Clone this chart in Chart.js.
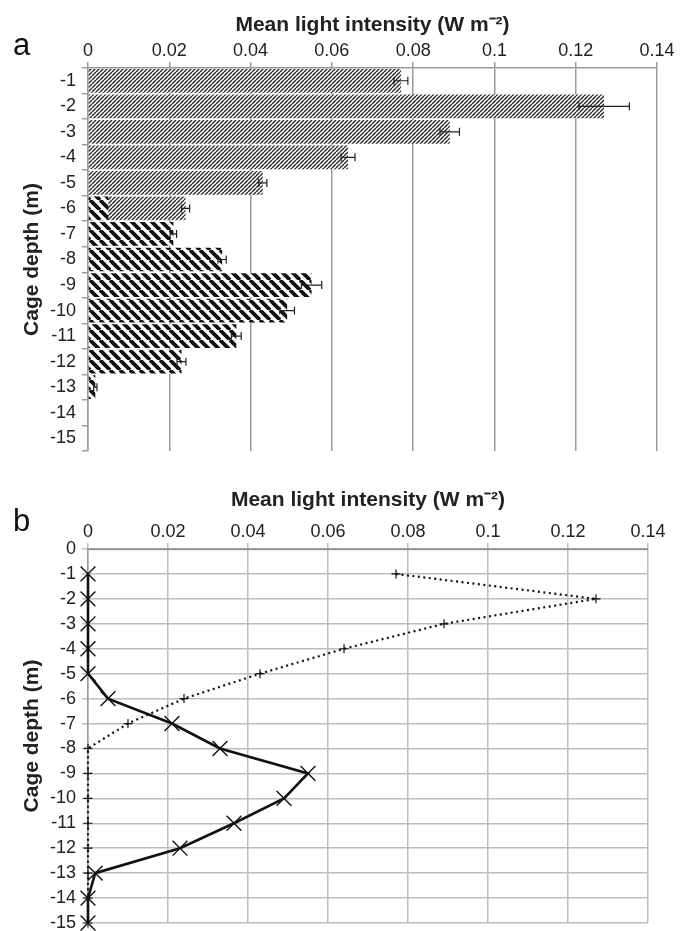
<!DOCTYPE html>
<html>
<head>
<meta charset="utf-8">
<title>Mean light intensity by cage depth</title>
<script src="https://cdn.jsdelivr.net/npm/chart.js@4.4.1/dist/chart.umd.min.js"></script>
<style>
  html, body { margin: 0; padding: 0; background: #fff; }
  #wrap { position: relative; width: 692px; height: 931px; }
  canvas { position: absolute; left: 0; }
  #chart-a { top: 0; }
  #chart-b { top: 458px; }
</style>
</head>
<body>
<div id="wrap">
  <canvas id="chart-a" width="692" height="456"></canvas>
  <canvas id="chart-b" width="692" height="473"></canvas>
</div>
<script>
/* ── data ─────────────────────────────────────────────── */
const depths      = [-1, -2, -3, -4, -5, -6, -7, -8, -9, -10, -11, -12, -13, -14, -15];
const depthTicks  = [0, -1, -2, -3, -4, -5, -6, -7, -8, -9, -10, -11, -12, -13, -14, -15];
const lightTicks  = [0, 0.02, 0.04, 0.06, 0.08, 0.1, 0.12, 0.14];

// fine-hatched bars / dotted line (+)
const upperSeries = [0.077, 0.127, 0.089, 0.064, 0.043, 0.024, 0.010, 0, 0, 0, 0, 0, 0, 0, 0];
const upperErr    = [0.0017, 0.0062, 0.0024, 0.0017, 0.0010, 0.0010, 0, 0, 0, 0, 0, 0, 0, 0, 0];
// bold-hatched bars / solid line (x)
const lowerSeries = [0, 0, 0, 0, 0, 0.005, 0.021, 0.033, 0.055, 0.049, 0.0365, 0.023, 0.0018, 0, 0];
const lowerErr    = [0, 0, 0, 0, 0, 0, 0.0008, 0.0010, 0.0025, 0.0018, 0.0012, 0.0011, 0.0004, 0, 0];

/* ── shared look ──────────────────────────────────────── */
const FONT = '"Liberation Sans", Arial, Helvetica, sans-serif';
Chart.defaults.font.family = FONT;
Chart.defaults.font.size = 18;
Chart.defaults.color = '#222';

const AXIS_TITLE = 'Mean light intensity (W m\u207B\u00B2)';
const tickLabel  = v => String(+(+v).toFixed(2));

// no label overhang padding, so the plot box sits where the figure has it
const fixX = h => s => { s.height = h; s.paddingLeft = 0; s.paddingRight = 0; };
const fixY = w => s => { s.width = w; s.paddingTop = 0; s.paddingBottom = 0; };

// diagonal hatch tile (on white) used as a bar fill
function hatch (size, width, color, dir) {
  const c = document.createElement('canvas');
  c.width = c.height = size;
  const g = c.getContext('2d');
  g.fillStyle = '#fff';
  g.fillRect(0, 0, size, size);
  g.strokeStyle = color;
  g.lineWidth = width;
  g.beginPath();
  for (let k = -1; k <= 1; k++) {
    if (dir === '/') { g.moveTo(k * size, size); g.lineTo(k * size + size, 0); }
    else             { g.moveTo(k * size, 0);    g.lineTo(k * size + size, size); }
  }
  g.stroke();
  return g.createPattern(c, 'repeat');
}

/* horizontal error bars from the dataset's `errors` list */
const errorBars = {
  id: 'errorBars',
  afterDatasetsDraw (chart) {
    const { ctx, scales: { x } } = chart;
    chart.data.datasets.forEach((ds, i) => {
      if (!ds.errors) return;
      const meta = chart.getDatasetMeta(i);
      ctx.save();
      ctx.strokeStyle = '#222';
      ctx.lineWidth = 1.2;
      meta.data.forEach((bar, j) => {
        const e = ds.errors[j];
        if (!e) return;
        const v  = ds.data[j];
        const x1 = x.getPixelForValue(v - e);
        const x2 = x.getPixelForValue(v + e);
        const y  = bar.y;
        ctx.beginPath();
        ctx.moveTo(x1, y);     ctx.lineTo(x2, y);
        ctx.moveTo(x1, y - 4); ctx.lineTo(x1, y + 4);
        ctx.moveTo(x2, y - 4); ctx.lineTo(x2, y + 4);
        ctx.stroke();
      });
      ctx.restore();
    });
  }
};

/* panel letter (a / b) */
const panelLetter = {
  id: 'panelLetter',
  afterDraw (chart, args, opts) {
    const ctx = chart.ctx;
    ctx.save();
    ctx.font = '31px ' + FONT;
    ctx.fillStyle = '#111';
    ctx.textBaseline = 'alphabetic';
    ctx.fillText(opts.text, opts.x, opts.y);
    ctx.restore();
  }
};

const titleFont = { size: 21, weight: 'bold' };

/* ── a: bars (index 0 is painted last, so bold hatch sits on top) ── */
new Chart(document.getElementById('chart-a'), {
  type: 'bar',
  data: {
    labels: depths.map(String),
    datasets: [
      { data: lowerSeries, errors: lowerErr, grouped: false,
        backgroundColor: hatch(10, 3.8, '#111', '\\'),
        barPercentage: 0.93, categoryPercentage: 1 },
      { data: upperSeries, errors: upperErr, grouped: false,
        backgroundColor: hatch(4, 1.4, '#2a2a2a', '/'),
        barPercentage: 0.93, categoryPercentage: 1 }
    ]
  },
  options: {
    indexAxis: 'y',
    responsive: false,
    animation: false,
    layout: { autoPadding: false, padding: { top: 0, right: 35, bottom: 5, left: 0 } },
    plugins: {
      legend: { display: false },
      tooltip: { enabled: false },
      panelLetter: { text: 'a', x: 13, y: 55 }
    },
    scales: {
      x: {
        position: 'top', min: 0, max: 0.14,
        afterBuildTicks: s => { s.ticks = lightTicks.map(value => ({ value })); },
        afterFit: fixX(68),
        grid: { color: '#9a9a9a', lineWidth: 1.5, tickLength: 6 },
        border: { color: '#9a9a9a', width: 1.5 },
        ticks: { padding: 0, callback: tickLabel, maxRotation: 0 },
        title: { display: true, text: AXIS_TITLE, color: '#222',
                 font: titleFont, padding: { top: 13, bottom: 0 } }
      },
      y: {
        afterFit: fixY(88),
        grid: { offset: true, drawOnChartArea: false, color: '#9a9a9a', lineWidth: 1.5, tickLength: 6 },
        border: { color: '#9a9a9a', width: 1.5 },
        ticks: { padding: 6, autoSkip: false },
        title: { display: true, text: 'Cage depth (m)', color: '#222',
                 font: titleFont, padding: { top: 20, bottom: 0 } }
      }
    }
  },
  plugins: [errorBars, panelLetter]
});

/* ── b: profiles ──────────────────────────────────────── */
new Chart(document.getElementById('chart-b'), {
  type: 'scatter',
  data: {
    datasets: [
      { data: depths.map((d, i) => ({ x: lowerSeries[i], y: d })),
        showLine: true, clip: false, borderColor: '#111', borderWidth: 2.6,
        pointStyle: 'crossRot', pointRadius: 10.5, pointBorderWidth: 1.4,
        pointBorderColor: '#111', pointBackgroundColor: '#111' },
      { data: depths.map((d, i) => ({ x: upperSeries[i], y: d })),
        showLine: true, clip: false, borderColor: '#111', borderWidth: 2.2,
        borderDash: [2, 3.5],
        pointStyle: 'cross', pointRadius: 4.5, pointBorderWidth: 1.2,
        pointBorderColor: '#111', pointBackgroundColor: '#111' }
    ]
  },
  options: {
    responsive: false,
    animation: false,
    layout: { autoPadding: false, padding: { top: 0, right: 44, bottom: 8, left: 0 } },
    plugins: {
      legend: { display: false },
      tooltip: { enabled: false },
      panelLetter: { text: 'b', x: 13, y: 73 }
    },
    scales: {
      x: {
        type: 'linear', position: 'top', min: 0, max: 0.14,
        afterBuildTicks: s => { s.ticks = lightTicks.map(value => ({ value })); },
        afterFit: fixX(91),
        grid: { color: '#bdbdbd', lineWidth: 1.5, tickLength: 6 },
        border: { color: '#9a9a9a', width: 2.2 },
        ticks: { padding: 0, callback: tickLabel, maxRotation: 0 },
        title: { display: true, text: AXIS_TITLE, color: '#222',
                 font: titleFont, padding: { top: 30, bottom: 0 } }
      },
      y: {
        type: 'linear', min: -15, max: 0,
        afterBuildTicks: s => { s.ticks = depthTicks.map(value => ({ value })); },
        afterFit: fixY(88),
        grid: { color: '#bdbdbd', lineWidth: 1.5, tickLength: 6 },
        border: { color: '#9a9a9a', width: 1.5 },
        ticks: { padding: 6, autoSkip: false, callback: v => String(v) },
        title: { display: true, text: 'Cage depth (m)', color: '#222',
                 font: titleFont, padding: { top: 20, bottom: 0 } }
      }
    }
  },
  plugins: [panelLetter]
});
</script>
</body>
</html>
